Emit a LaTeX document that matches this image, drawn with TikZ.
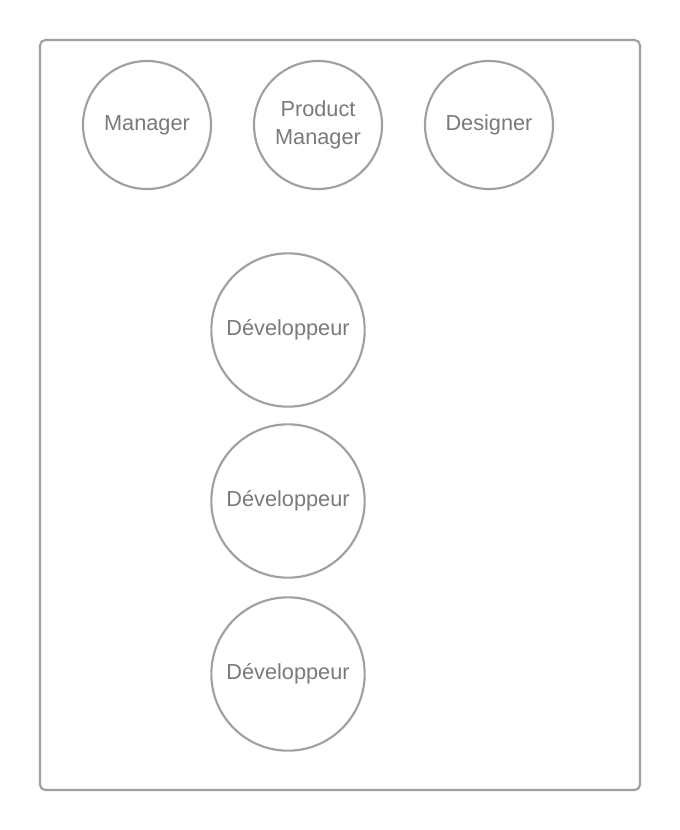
\documentclass[tikz,border=0pt]{standalone}
\usepackage{fontspec}
\setmainfont{Liberation Sans}
\usepackage{tikz}
\usetikzlibrary{positioning}
\definecolor{tmline}{RGB}{160,160,160}
\definecolor{tmtext}{RGB}{122,122,122}
\tikzset{
  tmframe/.style={draw=tmline, line width=1.6pt, rounded corners=4pt},
  tmrole/.style={circle, draw=tmline, line width=1.6pt, fill=white,
    align=center, inner sep=0pt, minimum size=96pt, text=tmtext,
    font=\fontsize{16.3}{21}\selectfont},
  tmdev/.style={tmrole, minimum size=115pt}
}
\begin{document}
\begin{tikzpicture}[x=0.75pt,y=-0.75pt]
  \useasboundingbox (0,0) rectangle (680,830);
  \node[tmframe, minimum width=450pt, minimum height=562.5pt] (team) at (340,415) {};
  \node[tmrole] (mgr) at (147,125) {Manager};
  \node[tmrole] (pm) at (318,125) {Product\\Manager};
  \node[tmrole] (des) at (489,125) {Designer};
  \node[tmdev] (devA) at (288,330) {Développeur};
  \node[tmdev] (devB) at (288,501) {Développeur};
  \node[tmdev] (devC) at (288,674) {Développeur};
\end{tikzpicture}
\end{document}
